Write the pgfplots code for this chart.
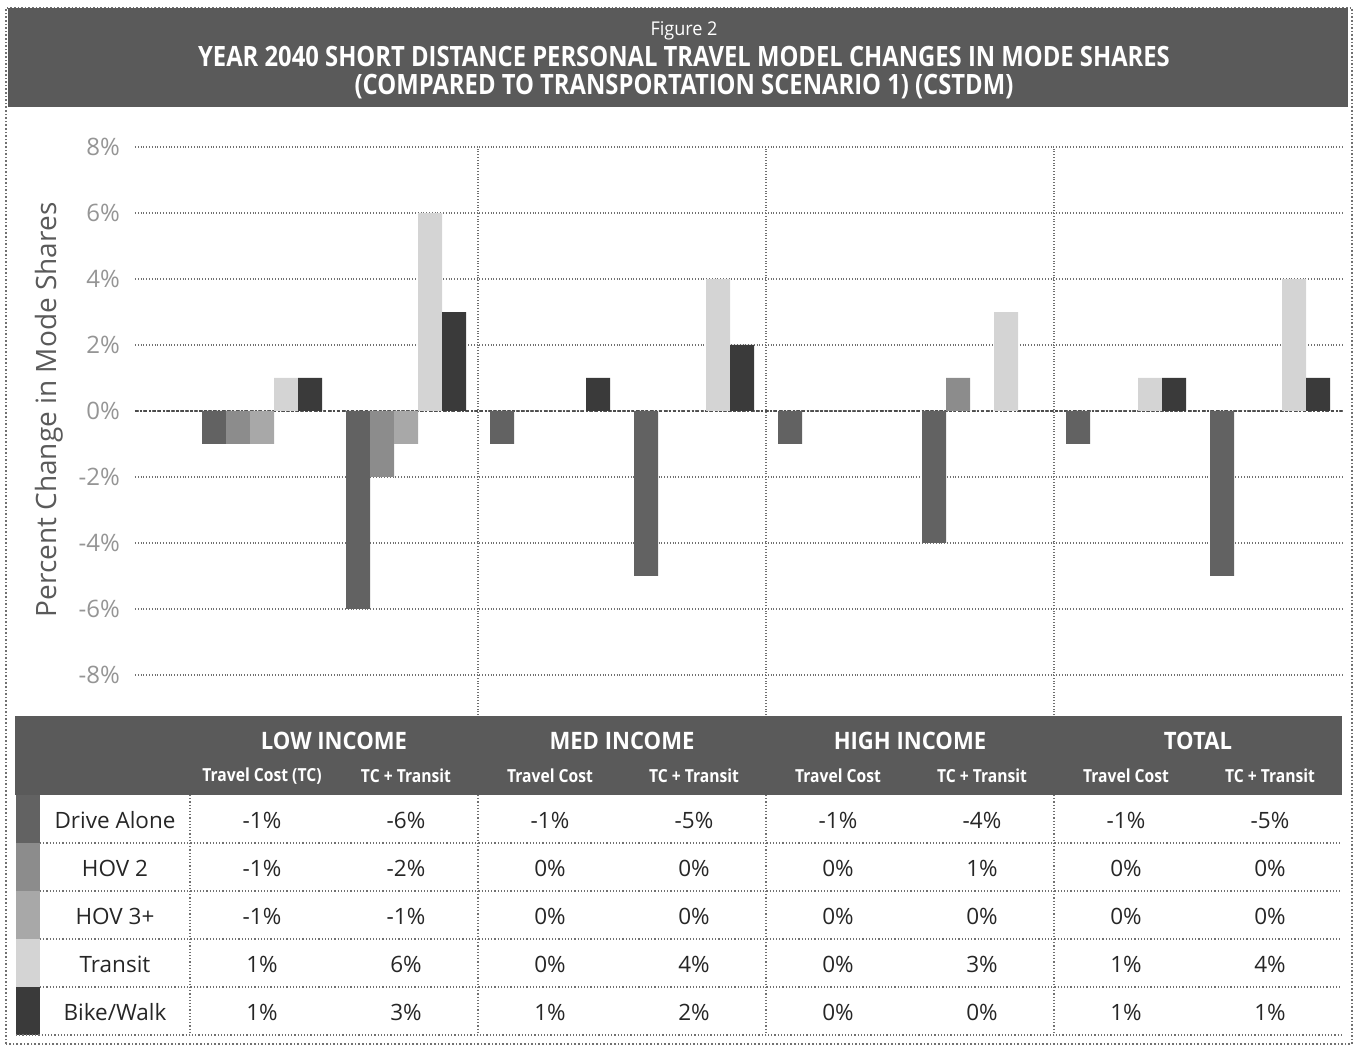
\documentclass[border=0pt]{standalone}
\usepackage{pgfplots}
\pgfplotsset{compat=1.18}
\usepackage{graphicx}
\usepackage{fontspec}
\setmainfont{Open Sans}

\definecolor{cDA}{HTML}{626262}
\definecolor{cH2}{HTML}{8C8C8C}
\definecolor{cH3}{HTML}{A8A8A8}
\definecolor{cTR}{HTML}{D4D4D4}
\definecolor{cBW}{HTML}{3A3A3A}
\definecolor{banner}{HTML}{5A5A5A}
\definecolor{gridc}{HTML}{707070}
\definecolor{ticklab}{HTML}{959595}
\definecolor{ylab}{HTML}{5A5A5A}
\newcommand{\bikewalk}{Bike/Walk}

\begin{document}
\begin{tikzpicture}[x=0.5pt,y=0.5pt]
\useasboundingbox (0,0) rectangle (1356,1047);
% outer frame
\draw[gridc, densely dotted, line width=0.8pt] (6,3) rectangle (1352,1039);
% title banner
\fill[banner] (8,940) rectangle (1348,1039);
\node[white] at (684,1016) {\fontsize{9.5pt}{11pt}\selectfont\scalebox{0.95}[1]{Figure 2}};
\node[white] at (684,990) {\fontsize{14pt}{16pt}\selectfont\bfseries\scalebox{0.85}[1]{YEAR 2040 SHORT DISTANCE PERSONAL TRAVEL MODEL CHANGES IN MODE SHARES}};
\node[white] at (684,960) {\fontsize{14pt}{16pt}\selectfont\bfseries\scalebox{0.85}[1]{(COMPARED TO TRANSPORTATION SCENARIO 1) (CSTDM)}};

% y label
\node[ylab, rotate=90] at (49,637) {\fontsize{14pt}{16pt}\selectfont Percent Change in Mode Shares};

\begin{axis}[
  at={(67.5pt,166pt)}, anchor=south west,
  scale only axis, width=603.5pt, height=284pt,
  xmin=-0.882, xmax=7.5, ymin=-9.212, ymax=8,
  ybar=0pt, bar width=12pt,
  axis line style={draw=none},
  tick style={draw=none},
  xtick={1.5,3.5,5.5}, xticklabels={},
  ytick={-8,-6,...,8},
  yticklabel={\pgfmathprintnumber{\tick}\%},
  yticklabel style={font=\fontsize{12pt}{14pt}\selectfont, text=ticklab, xshift=-4pt},
  /pgf/number format/assume math mode=true,
  xmajorgrids, ymajorgrids,
  x grid style={gridc, densely dotted, line width=0.6pt},
  y grid style={gridc, densely dotted, line width=0.8pt},
  clip=false,
]
\draw[black!70, densely dotted, line width=1.3pt] (axis cs:-0.882,0) -- (axis cs:7.5,0);
\addplot[fill=cDA, draw=none] coordinates {(0,-1) (1,-6) (2,-1) (3,-5) (4,-1) (5,-4) (6,-1) (7,-5)};
\addplot[fill=cH2, draw=none] coordinates {(0,-1) (1,-2) (2,0) (3,0) (4,0) (5,1) (6,0) (7,0)};
\addplot[fill=cH3, draw=none] coordinates {(0,-1) (1,-1) (2,0) (3,0) (4,0) (5,0) (6,0) (7,0)};
\addplot[fill=cTR, draw=none] coordinates {(0,1) (1,6) (2,0) (3,4) (4,0) (5,3) (6,1) (7,4)};
\addplot[fill=cBW, draw=none] coordinates {(0,1) (1,3) (2,1) (3,2) (4,0) (5,0) (6,1) (7,1)};
\end{axis}

% table header
\fill[banner] (15,252) rectangle (1342,331);
\foreach \g [count=\i from 0] in {LOW INCOME, MED INCOME, HIGH INCOME, TOTAL}
  \node[white] at (334+288*\i,306) {\fontsize{12pt}{14pt}\selectfont\bfseries\scalebox{0.92}[1]{\g}};
\foreach \s [count=\i from 0] in {Travel Cost (TC), TC + Transit, Travel Cost, TC + Transit, Travel Cost, TC + Transit, Travel Cost, TC + Transit}
  \node[white] at (262+144*\i,271) {\fontsize{9pt}{11pt}\selectfont\bfseries\scalebox{0.87}[1]{\s}};

% table body
\foreach \lab/\col/\vals [count=\r from 0] in {
  Drive Alone/cDA/{-1,-6,-1,-5,-1,-4,-1,-5},
  HOV 2/cH2/{-1,-2,0,0,0,1,0,0},
  HOV 3+/cH3/{-1,-1,0,0,0,0,0,0},
  Transit/cTR/{1,6,0,4,0,3,1,4},
  \bikewalk/cBW/{1,3,1,2,0,0,1,1}} {
  \fill[\col] (16,252-48*\r) rectangle (40,204-48*\r);
  \node[black!85] at (115,227-48*\r) {\fontsize{11.25pt}{13pt}\selectfont\lab};
  \foreach \v [count=\c from 0] in \vals
    \node[black!85] at (262+144*\c,227-48*\r) {\fontsize{11.25pt}{13pt}\selectfont\v\%};
}
\foreach \yy in {204,156,108,60}
  \draw[gridc, densely dotted, line width=0.6pt] (40,\yy) -- (1342,\yy);
\draw[gridc, densely dotted, line width=0.6pt] (16,12) -- (1342,12);
\foreach \xx in {190,478,766,1054}
  \draw[gridc, densely dotted, line width=0.6pt] (\xx,252) -- (\xx,12);
\end{tikzpicture}
\end{document}
